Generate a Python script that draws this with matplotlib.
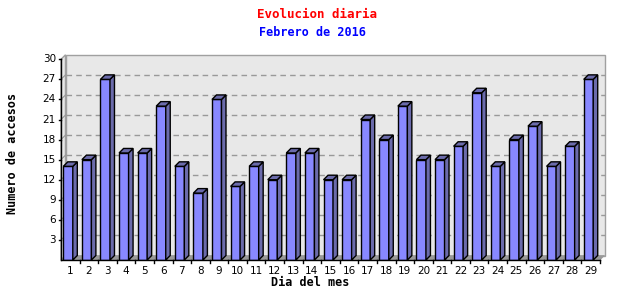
import numpy as np
import matplotlib
matplotlib.use('Agg')
import matplotlib.pyplot as plt
from matplotlib.patches import Polygon, Rectangle

days = list(range(1, 30))
visits = [14, 15, 27, 16, 16, 23, 14, 10, 24, 11, 14, 12, 16, 16, 12,
          12, 21, 18, 23, 15, 15, 17, 25, 14, 18, 20, 14, 17, 27]
yticks = [3, 6, 9, 12, 15, 18, 21, 24, 27, 30]

fig = plt.figure(figsize=(6.4, 3.0), dpi=100)
ax = fig.add_axes([61/640, 40/300, 539/640, 200.7/300])
ax.set_xlim(0.5, 29.5)
ax.set_ylim(0, 30)
ax.axis('off')

# 3d depth in data units (~4.5 px)
dx = 4.5 / (539/29)
dy = 4.5 / (200.7/30)
w = 0.51
x0, x1 = 0.5, 29.5

# back wall
ax.add_patch(Rectangle((x0 + dx, dy), x1 - x0, 30, facecolor='#e8e8e8',
                       edgecolor='#a0a0a0', lw=1, clip_on=False, zorder=0))
# left side wall
ax.add_patch(Polygon([(x0, 0), (x0 + dx, dy), (x0 + dx, 30 + dy), (x0, 30)],
                     closed=True, facecolor='#e8e8e8', edgecolor='#a0a0a0',
                     lw=1, clip_on=False, zorder=0))
# floor
ax.add_patch(Polygon([(x0, 0), (x1, 0), (x1 + dx, dy), (x0 + dx, dy)],
                     closed=True, facecolor='#999999', edgecolor='#999999',
                     lw=0.5, clip_on=False, zorder=1))

for t in yticks[:-1]:
    ax.plot([x0 + dx, x1 + dx], [t + dy, t + dy], ls=(0, (4, 3)),
            color='#999999', lw=1, zorder=1, clip_on=False)
    ax.plot([x0, x0 + dx], [t, t + dy], color='#999999', lw=0.8, zorder=1,
            clip_on=False)

# bars
xs = np.array(days) - 0.12
ax.bar(xs, visits, width=w, color='#8888ff', edgecolor='black', lw=1,
       zorder=3)
for x, v in zip(xs, visits):
    l, r = x - w/2, x + w/2
    ax.add_patch(Polygon([(r, 0), (r + dx, dy), (r + dx, v + dy), (r, v)],
                         closed=True, facecolor='#6b6bab', edgecolor='black',
                         lw=1, zorder=3, clip_on=False))
    ax.add_patch(Polygon([(l, v), (r, v), (r + dx, v + dy), (l + dx, v + dy)],
                         closed=True, facecolor='#6b6bab', edgecolor='black',
                         lw=1, zorder=3, clip_on=False))

# front axes
ax.plot([x0, x0], [0, 30], color='black', lw=1, clip_on=False, zorder=4)
ax.plot([x0, x1], [0, 0], color='black', lw=1, clip_on=False, zorder=4)
for t in yticks:
    ax.plot([x0 - 0.1, x0], [t, t], color='black', lw=1, clip_on=False)
    ax.text(x0 - 0.28, t, str(t), ha='right', va='center', fontsize=7.5,
            family='DejaVu Sans')
for i in range(1, 30):
    ax.plot([i + 0.5, i + 0.5], [0, -0.4], color='black', lw=1, clip_on=False)
for d in days:
    ax.text(d, -0.9, str(d), ha='center', va='top', fontsize=7.5,
            family='DejaVu Sans')

fig.text(317/640, 1 - 14/300, 'Evolucion diaria', color='red', ha='center',
         va='center', fontsize=9, family='DejaVu Sans Mono', weight='bold')
fig.text(312/640, 1 - 32/300, 'Febrero de 2016', color='blue', ha='center',
         va='center', fontsize=8.5, family='DejaVu Sans Mono', weight='bold')
fig.text(310/640, 1 - 282/300, 'Dia del mes', color='black', ha='center',
         va='center', fontsize=8.5, family='DejaVu Sans Mono', weight='bold')
fig.text(13/640, 1 - 153/300, 'Numero de accesos', color='black',
         ha='center', va='center', rotation=90, fontsize=8.5,
         family='DejaVu Sans Mono', weight='bold')

fig.savefig('out.png', dpi=100)
